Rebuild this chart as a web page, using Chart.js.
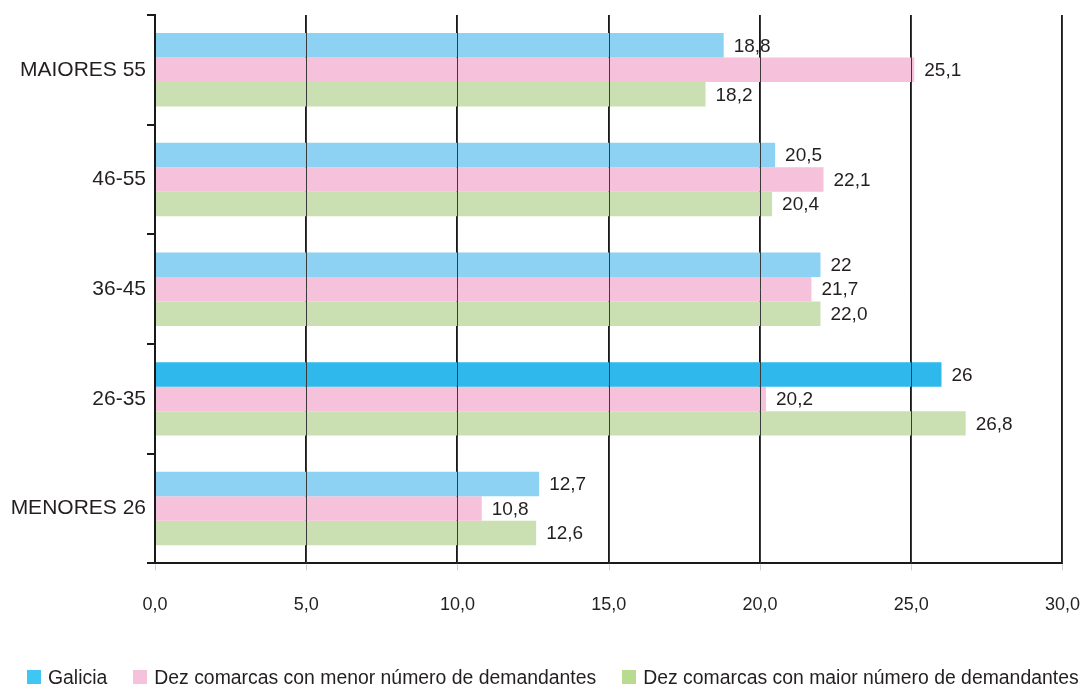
<!DOCTYPE html>
<html>
<head>
<meta charset="utf-8">
<script src="https://cdn.jsdelivr.net/npm/chart.js@4/dist/chart.umd.min.js"></script>
<style>
  html, body { margin: 0; padding: 0; background: #fff; }
  #wrap { position: relative; width: 1082px; height: 690px; }
  #legend {
    position: absolute; left: 27px; top: 666px;
    display: flex; align-items: center; gap: 26px;
    font-family: "Liberation Sans", Arial, sans-serif;
    font-size: 19.4px; color: #231f20; white-space: nowrap;
    line-height: 22px;
  }
  #legend .item { display: flex; align-items: center; }
  #legend .box { width: 14px; height: 14px; margin-right: 7px; }
</style>
</head>
<body>
<div id="wrap">
  <canvas id="chart" width="1082" height="690"></canvas>
  <div id="legend"></div>
</div>
<script>
// categorías (de arriba abaixo)
const categories = ['MAIORES 55', '46-55', '36-45', '26-35', 'MENORES 26'];

// series
const galicia = [18.8, 20.5, 22, 26, 12.7];
const menorDemandantes = [25.1, 22.1, 21.7, 20.2, 10.8];
const maiorDemandantes = [18.2, 20.4, 22.0, 26.8, 12.6];

const seriesNames = [
  'Galicia',
  'Dez comarcas con menor número de demandantes',
  'Dez comarcas con maior número de demandantes'
];

// eixo X
const xMin = 0;
const xMax = 30;
const xStep = 5;

const textColor = '#231f20';
const fontFamily = '"Liberation Sans", Arial, sans-serif';

const galiciaColors = categories.map(c => c === '26-35' ? '#2eb8ec' : '#8dd2f2');
const legendColors = ['#40c6f3', '#f6c1da', '#b8db8f'];

function fmtComma(v, fixed) {
  const s = fixed ? v.toFixed(1) : String(v);
  return s.replace('.', ',');
}

// etiquetas de valor e liñas finas por riba das barras
const overlayPlugin = {
  id: 'overlay',
  afterDatasetsDraw(chart) {
    const ctx = chart.ctx;
    const area = chart.chartArea;
    const xScale = chart.scales.x;

    ctx.save();
    ctx.font = '19px ' + fontFamily;
    ctx.fillStyle = textColor;
    ctx.textAlign = 'left';
    ctx.textBaseline = 'middle';
    chart.data.datasets.forEach((ds, di) => {
      const meta = chart.getDatasetMeta(di);
      meta.data.forEach((bar, i) => {
        const txt = fmtComma(ds.data[i], di !== 0);
        ctx.fillText(txt, bar.x + 10, bar.y + 1);
      });
    });
    ctx.restore();

    // liñas da grella por riba das barras (finas)
    ctx.save();
    ctx.strokeStyle = '#3a3a3a';
    ctx.lineWidth = 1;
    xScale.ticks.forEach(t => {
      if (t.value === xMin) return;
      const px = Math.round(xScale.getPixelForValue(t.value)) + 0.5;
      ctx.beginPath();
      ctx.moveTo(px, area.top);
      ctx.lineTo(px, area.bottom);
      ctx.stroke();
    });
    // marcas curtas baixo o eixo
    ctx.strokeStyle = '#d0d0d0';
    xScale.ticks.forEach(t => {
      const px = Math.round(xScale.getPixelForValue(t.value)) + 0.5;
      ctx.beginPath();
      ctx.moveTo(px, area.bottom + 1);
      ctx.lineTo(px, area.bottom + 7);
      ctx.stroke();
    });
    ctx.restore();
  }
};

new Chart(document.getElementById('chart').getContext('2d'), {
  type: 'bar',
  data: {
    labels: categories,
    datasets: [
      {
        label: seriesNames[0],
        data: galicia,
        backgroundColor: galiciaColors,
        borderWidth: 0
      },
      {
        label: seriesNames[1],
        data: menorDemandantes,
        backgroundColor: '#f6c1da',
        borderWidth: 0
      },
      {
        label: seriesNames[2],
        data: maiorDemandantes,
        backgroundColor: '#cae0b2',
        borderWidth: 0
      }
    ]
  },
  options: {
    indexAxis: 'y',
    responsive: false,
    animation: false,
    categoryPercentage: 0.67,
    barPercentage: 1.0,
    layout: {
      padding: { top: 15, right: 0, left: 0, bottom: 72 }
    },
    plugins: {
      legend: { display: false },
      tooltip: { enabled: false }
    },
    scales: {
      x: {
        min: xMin,
        max: xMax,
        ticks: {
          stepSize: xStep,
          color: textColor,
          padding: 2,
          font: { family: fontFamily, size: 18 },
          callback: v => fmtComma(v, true)
        },
        grid: {
          color: '#1a1a1a',
          lineWidth: 2,
          tickLength: 29,
          tickColor: 'rgba(0,0,0,0)'
        },
        border: { color: '#1a1a1a', width: 2 }
      },
      y: {
        afterFit(scale) { scale.width = 155; },
        ticks: {
          color: textColor,
          padding: 1,
          font: { family: fontFamily, size: 21 }
        },
        grid: {
          drawOnChartArea: false,
          color: '#1a1a1a',
          lineWidth: 2,
          tickLength: 8
        },
        border: { color: '#1a1a1a', width: 2 }
      }
    }
  },
  plugins: [overlayPlugin]
});

// lenda
const legendEl = document.getElementById('legend');
seriesNames.forEach((name, i) => {
  const item = document.createElement('div');
  item.className = 'item';
  const box = document.createElement('span');
  box.className = 'box';
  box.style.background = legendColors[i];
  const label = document.createElement('span');
  label.textContent = name;
  item.appendChild(box);
  item.appendChild(label);
  legendEl.appendChild(item);
});
</script>
</body>
</html>
